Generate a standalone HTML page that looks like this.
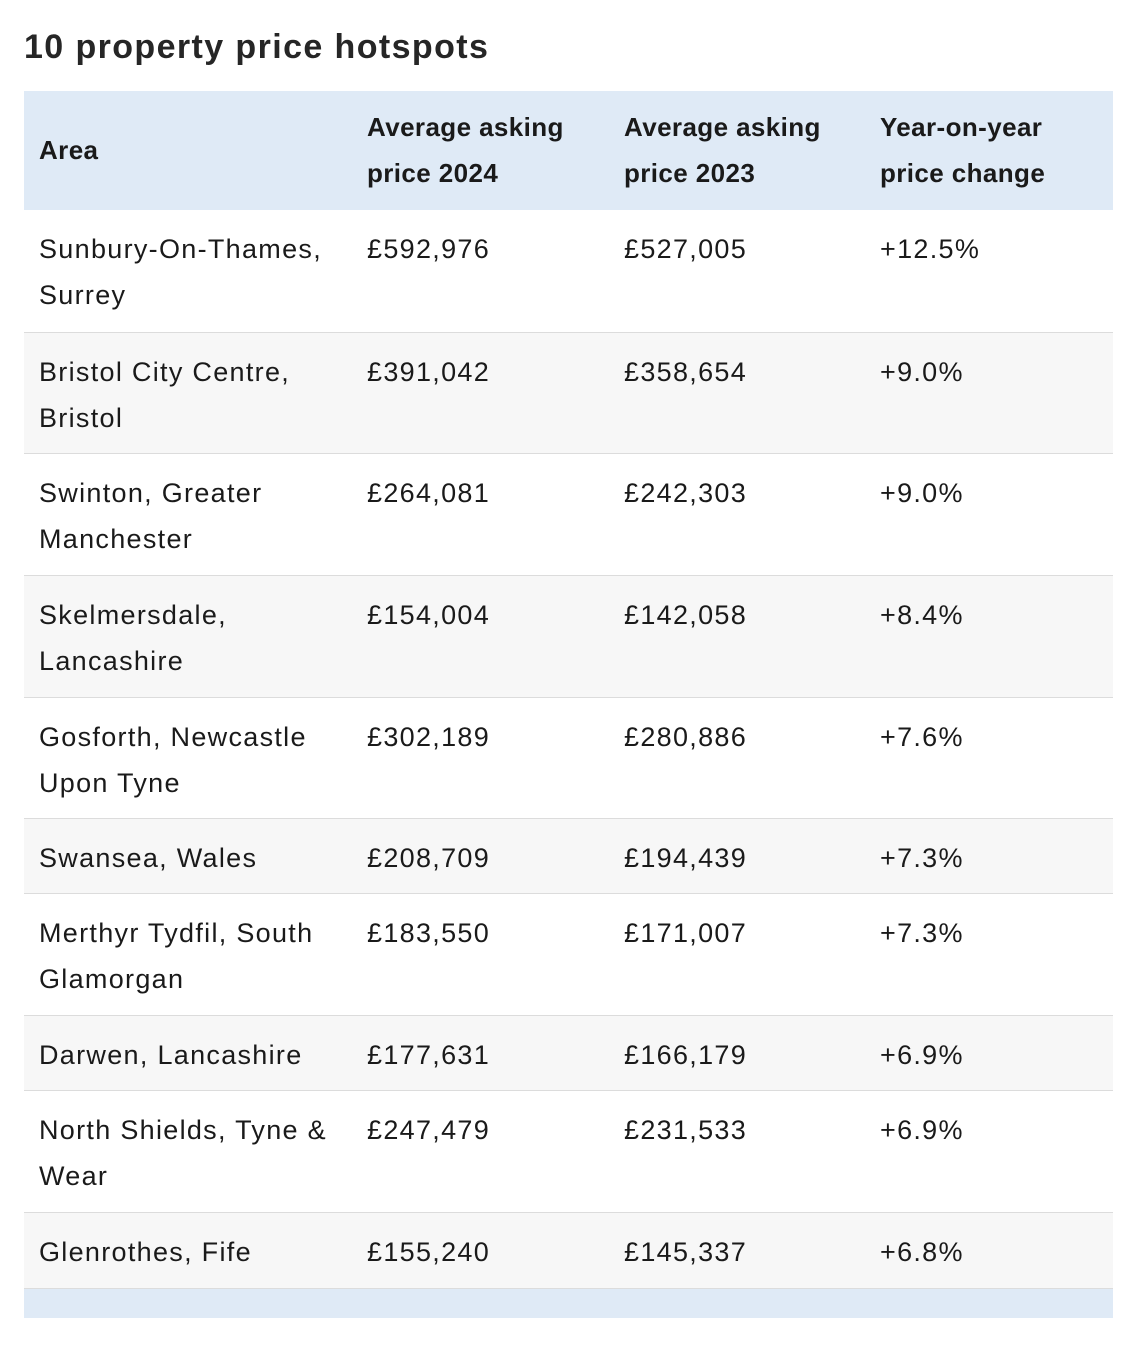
<!DOCTYPE html>
<html><head><meta charset="utf-8"><style>
body{margin:0;background:#fff;width:1142px;height:1364px;position:relative;font-family:"Liberation Sans",sans-serif;color:#1a1a1a}
h1{position:absolute;left:24px;top:26px;margin:0;font-size:34px;letter-spacing:1.4px;font-weight:bold;line-height:42px;color:#262626}
.r{position:absolute;left:24px;width:1089px;box-sizing:border-box;border-bottom:1px solid #dcdcdc}
.r div{position:absolute;top:16px;font-size:27px;letter-spacing:1.3px;line-height:46px;white-space:nowrap}
.c1{left:15px}.c2{left:343px}.c3{left:600px}.c4{left:856px}
.h{background:#dfeaf6;border:none}
.h div{font-weight:bold;top:13px;font-size:26px;letter-spacing:0.4px}
.g{background:#f7f7f7}
</style></head><body>
<h1>10 property price hotspots</h1>
<div class="r h" style="top:91px;height:119px"><div class="c1" style="top:36px">Area</div><div class="c2">Average asking<br>price 2024</div><div class="c3">Average asking<br>price 2023</div><div class="c4">Year-on-year<br>price change</div></div>
<div class="r" style="top:210px;height:123px"><div class="c1">Sunbury-On-Thames,<br>Surrey</div><div class="c2">£592,976</div><div class="c3">£527,005</div><div class="c4">+12.5%</div></div>
<div class="r g" style="top:333px;height:121px"><div class="c1">Bristol City Centre,<br>Bristol</div><div class="c2">£391,042</div><div class="c3">£358,654</div><div class="c4">+9.0%</div></div>
<div class="r" style="top:454px;height:122px"><div class="c1">Swinton, Greater<br>Manchester</div><div class="c2">£264,081</div><div class="c3">£242,303</div><div class="c4">+9.0%</div></div>
<div class="r g" style="top:576px;height:122px"><div class="c1">Skelmersdale,<br>Lancashire</div><div class="c2">£154,004</div><div class="c3">£142,058</div><div class="c4">+8.4%</div></div>
<div class="r" style="top:698px;height:121px"><div class="c1">Gosforth, Newcastle<br>Upon Tyne</div><div class="c2">£302,189</div><div class="c3">£280,886</div><div class="c4">+7.6%</div></div>
<div class="r g" style="top:819px;height:75px"><div class="c1">Swansea, Wales</div><div class="c2">£208,709</div><div class="c3">£194,439</div><div class="c4">+7.3%</div></div>
<div class="r" style="top:894px;height:122px"><div class="c1">Merthyr Tydfil, South<br>Glamorgan</div><div class="c2">£183,550</div><div class="c3">£171,007</div><div class="c4">+7.3%</div></div>
<div class="r g" style="top:1016px;height:75px"><div class="c1">Darwen, Lancashire</div><div class="c2">£177,631</div><div class="c3">£166,179</div><div class="c4">+6.9%</div></div>
<div class="r" style="top:1091px;height:122px"><div class="c1">North Shields, Tyne &amp;<br>Wear</div><div class="c2">£247,479</div><div class="c3">£231,533</div><div class="c4">+6.9%</div></div>
<div class="r g" style="top:1213px;height:76px"><div class="c1">Glenrothes, Fife</div><div class="c2">£155,240</div><div class="c3">£145,337</div><div class="c4">+6.8%</div></div>
<div class="r h" style="top:1289px;height:29px"></div>
</body></html>
